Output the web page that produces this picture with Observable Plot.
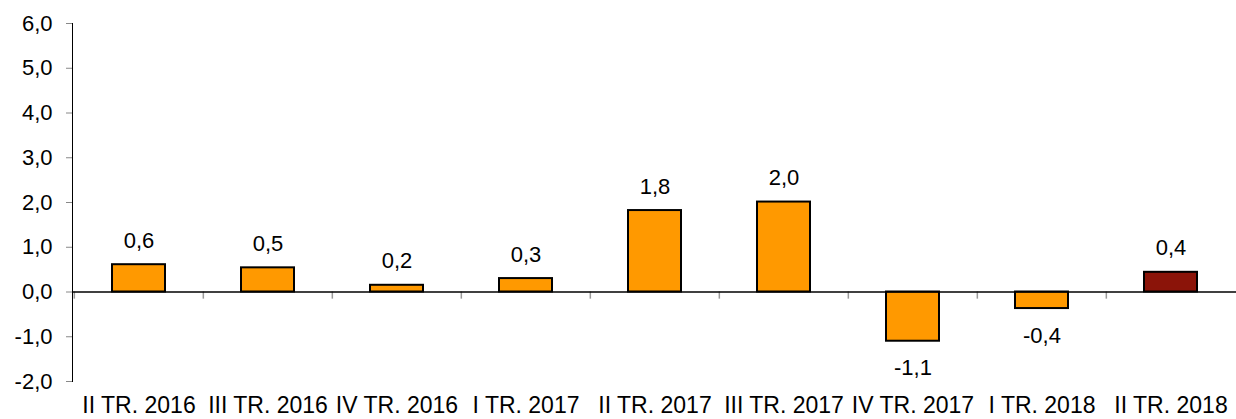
<!DOCTYPE html>
<html>
<head>
<meta charset="utf-8">
<script src="https://cdn.jsdelivr.net/npm/d3@7"></script>
<script src="https://cdn.jsdelivr.net/npm/@observablehq/plot@0.6"></script>
<style>
  html, body { margin: 0; padding: 0; background: #fff; }
  #chart svg { display: block; }
</style>
</head>
<body>
<div id="chart"></div>
<script>
const categories = ["II TR. 2016", "III TR. 2016", "IV TR. 2016", "I TR. 2017", "II TR. 2017", "III TR. 2017", "IV TR. 2017", "I TR. 2018", "II TR. 2018"];
const values = [0.61, 0.54, 0.15, 0.30, 1.82, 2.01, -1.10, -0.37, 0.44];
const valueLabels = ["0,6", "0,5", "0,2", "0,3", "1,8", "2,0", "-1,1", "-0,4", "0,4"];
const yTicks = [-2, -1, 0, 1, 2, 3, 4, 5, 6];
const colors = ["#FF9900", "#FF9900", "#FF9900", "#FF9900", "#FF9900", "#FF9900", "#FF9900", "#FF9900", "#8B1409"];

const data = categories.map((c, i) => ({cat: c, value: values[i], label: valueLabels[i], color: colors[i]}));

const W = 1236, H = 419, ML = 72, MR = 0, MT = 23, MB = 38;
const step = (W - ML - MR) / categories.length;
const fmt = d => d3.format(".1f")(d).replace(".", ",").replace("\u2212", "-");
const FONT = "'Liberation Sans', Arial, sans-serif";

const chart = Plot.plot({
  width: W,
  height: H,
  marginLeft: ML,
  marginRight: MR,
  marginTop: MT,
  marginBottom: MB,
  style: {fontFamily: FONT, fontSize: "22px", color: "#000", background: "#fff", overflow: "visible"},
  x: {domain: categories, paddingInner: 0.59, paddingOuter: 0.295, label: null},
  y: {domain: [-2, 6], label: null},
  marks: [
    Plot.axisY({ticks: yTicks, tickFormat: fmt, tickSize: 6, tickPadding: 14, stroke: "#888", fill: "#000", fontSize: 22, label: null}),
    Plot.frame({anchor: "left", stroke: "#000", strokeWidth: 1, strokeOpacity: 1}),
    Plot.axisX({tickSize: 0, tickPadding: 15, fontSize: 23, fill: "#000", label: null}),
    Plot.ruleX(categories, {x: d => d, y1: 0, y2: -0.16, dx: -step / 2, stroke: "#999", strokeWidth: 1.5}),
    Plot.barY(data, {x: "cat", y: "value", fill: "color", stroke: "#000", strokeWidth: 2}),
    Plot.ruleY([0], {stroke: "#000", strokeWidth: 1.3}),
    Plot.text(data, {x: "cat", y: "value", text: "label", dy: -24, fill: "#000", fontSize: 22,
      filter: d => d.value >= 0, lineAnchor: "middle", textAnchor: "middle"}),
    Plot.text(data, {x: "cat", y: "value", text: "label", dy: 27, fill: "#000", fontSize: 22,
      filter: d => d.value < 0, lineAnchor: "middle", textAnchor: "middle"}),
  ]
});

document.getElementById("chart").appendChild(chart);
</script>
</body>
</html>
